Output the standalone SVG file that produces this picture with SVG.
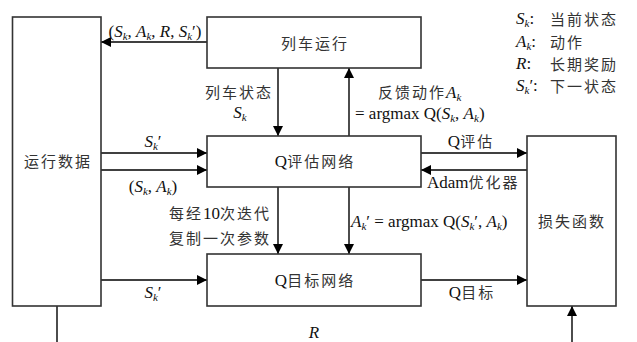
<svg xmlns="http://www.w3.org/2000/svg" width="637" height="342" viewBox="0 0 637 342">
  <style>
    .box { fill: #ffffff; stroke: #333333; stroke-width: 1.6; }
    .wire { fill: none; stroke: #000000; stroke-width: 1.4; }
    .arr { marker-end: url(#head); }
    text { font-family: "Liberation Serif", "Noto Sans CJK SC", serif; font-size: 17px; fill: #111111; }
    .cn { font-family: "Noto Sans CJK SC", sans-serif; font-size: 15px; letter-spacing: 2px; fill: #333333; }
    .it { font-style: italic; }
    .sub { font-style: italic; font-size: 11px; }
    .mid { text-anchor: middle; }
  </style>
  <defs>
    <marker id="head" viewBox="0 0 10 10" refX="10" refY="5" markerWidth="11" markerHeight="10" markerUnits="userSpaceOnUse" orient="auto">
      <path d="M0,0 L10,5 L0,10 Z" fill="#000000"/>
    </marker>
  </defs>

  <!-- connectors -->
  <g id="connectors">
    <line class="wire arr" x1="207" y1="42" x2="101" y2="42"/>
    <line class="wire arr" x1="278" y1="68" x2="278" y2="136"/>
    <line class="wire arr" x1="349" y1="136" x2="349" y2="68"/>
    <line class="wire arr" x1="101" y1="153" x2="207" y2="153"/>
    <line class="wire arr" x1="101" y1="170" x2="207" y2="170"/>
    <line class="wire arr" x1="421" y1="153" x2="527" y2="153"/>
    <line class="wire arr" x1="527" y1="170" x2="421" y2="170"/>
    <line class="wire arr" x1="278" y1="187" x2="278" y2="254"/>
    <line class="wire arr" x1="349" y1="187" x2="349" y2="254"/>
    <line class="wire arr" x1="101" y1="280" x2="207" y2="280"/>
    <line class="wire arr" x1="421" y1="280" x2="527" y2="280"/>
    <line class="wire" x1="57" y1="306" x2="57" y2="342"/>
    <line class="wire arr" x1="572" y1="342" x2="572" y2="306"/>

    <!-- connector labels -->
    <text class="mid" x="155" y="37">(<tspan class="it">S</tspan><tspan class="sub" dy="3">k</tspan><tspan dy="-3">, </tspan><tspan class="it">A</tspan><tspan class="sub" dy="3">k</tspan><tspan dy="-3">, </tspan><tspan class="it">R</tspan>, <tspan class="it">S</tspan><tspan class="sub" dy="3">k</tspan><tspan dy="-3">′)</tspan></text>
    <text class="cn mid" x="239" y="98">列车状态</text>
    <text class="mid" x="240" y="118"><tspan class="it">S</tspan><tspan class="sub" dy="3">k</tspan></text>
    <text x="378" y="98"><tspan class="cn">反馈动作</tspan><tspan class="it">A</tspan><tspan class="sub" dy="3">k</tspan></text>
    <text x="355" y="119">= argmax Q(<tspan class="it">S</tspan><tspan class="sub" dy="3">k</tspan><tspan dy="-3">, </tspan><tspan class="it">A</tspan><tspan class="sub" dy="3">k</tspan><tspan dy="-3">)</tspan></text>
    <text class="mid" x="153" y="147"><tspan class="it">S</tspan><tspan class="sub" dy="3">k</tspan><tspan dy="-3">′</tspan></text>
    <text class="mid" x="153" y="192">(<tspan class="it">S</tspan><tspan class="sub" dy="3">k</tspan><tspan dy="-3">, </tspan><tspan class="it">A</tspan><tspan class="sub" dy="3">k</tspan><tspan dy="-3">)</tspan></text>
    <text class="mid" x="471" y="147">Q<tspan class="cn">评估</tspan></text>
    <text x="427" y="188">Adam<tspan class="cn">优化器</tspan></text>
    <text x="169" y="219"><tspan class="cn">每经</tspan>10<tspan class="cn">次迭代</tspan></text>
    <text class="cn" x="169" y="244">复制一次参数</text>
    <text x="351" y="227"><tspan class="it">A</tspan><tspan class="sub" dy="3">k</tspan><tspan dy="-3">′ = argmax Q(</tspan><tspan class="it">S</tspan><tspan class="sub" dy="3">k</tspan><tspan dy="-3">′, </tspan><tspan class="it">A</tspan><tspan class="sub" dy="3">k</tspan><tspan dy="-3">)</tspan></text>
    <text class="mid" x="153" y="298"><tspan class="it">S</tspan><tspan class="sub" dy="3">k</tspan><tspan dy="-3">′</tspan></text>
    <text class="mid" x="472" y="298">Q<tspan class="cn">目标</tspan></text>
    <text class="mid it" x="314" y="338">R</text>
  </g>

  <!-- nodes -->
  <g id="run-data">
    <rect class="box" x="12.5" y="17" width="88.5" height="289"/>
    <text class="cn mid" x="58" y="167">运行数据</text>
  </g>
  <g id="train-run">
    <rect class="box" x="207" y="17" width="214" height="51"/>
    <text class="cn mid" x="315" y="49">列车运行</text>
  </g>
  <g id="q-eval">
    <rect class="box" x="207" y="136" width="214" height="51"/>
    <text class="mid" x="315" y="167">Q<tspan class="cn">评估网络</tspan></text>
  </g>
  <g id="q-target">
    <rect class="box" x="207" y="254" width="214" height="52"/>
    <text class="mid" x="315" y="286">Q<tspan class="cn">目标网络</tspan></text>
  </g>
  <g id="loss">
    <rect class="box" x="527" y="136" width="89" height="170"/>
    <text class="cn mid" x="572" y="227">损失函数</text>
  </g>

  <!-- legend -->
  <g id="legend">
    <text x="516" y="24"><tspan class="it">S</tspan><tspan class="sub" dy="3">k</tspan><tspan dy="-3">:</tspan></text>
    <text class="cn" x="550" y="25">当前状态</text>
    <text x="516" y="47"><tspan class="it">A</tspan><tspan class="sub" dy="3">k</tspan><tspan dy="-3">:</tspan></text>
    <text class="cn" x="550" y="48">动作</text>
    <text x="516" y="69"><tspan class="it">R</tspan>:</text>
    <text class="cn" x="550" y="70">长期奖励</text>
    <text x="516" y="91"><tspan class="it">S</tspan><tspan class="sub" dy="3">k</tspan><tspan dy="-3">′:</tspan></text>
    <text class="cn" x="550" y="92">下一状态</text>
  </g>
</svg>
